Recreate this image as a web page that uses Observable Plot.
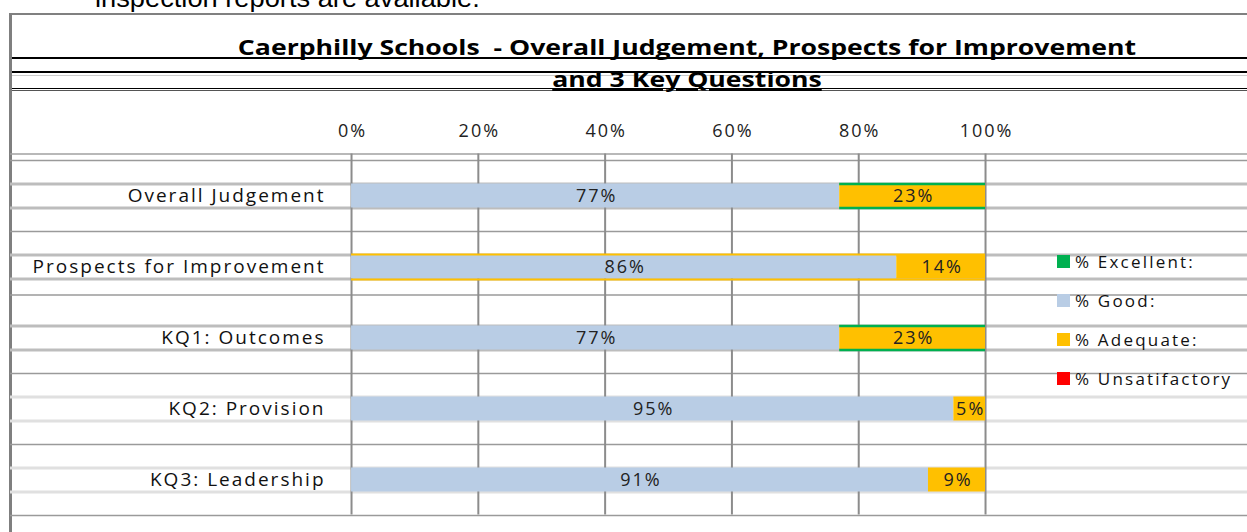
<!DOCTYPE html>
<html>
<head>
<meta charset="utf-8">
<script src="https://cdn.jsdelivr.net/npm/d3@7"></script>
<script src="https://cdn.jsdelivr.net/npm/@observablehq/plot@0.6"></script>
<style>
  html, body { margin: 0; padding: 0; background: #fff; }
  #page { position: relative; width: 1247px; height: 532px; overflow: hidden; background: #fff; font-family: "Open Sans", sans-serif; }
  .ln { position: absolute; }
  #intro { position: absolute; left: 95px; top: -14px; font-family: "Liberation Sans", Arial, sans-serif; font-size: 25px; line-height: 25px; color: #000; white-space: nowrap; transform: scaleX(1.09); transform-origin: left center; }
  .title { position: absolute; left: 187px; width: 1000px; text-align: center; font-family: "Open Sans", sans-serif; font-weight: bold; font-size: 22px; color: #000; text-decoration: underline; white-space: nowrap; line-height: 26px; transform: scaleX(1.21); transform-origin: center center; }
  #chart { position: absolute; left: 0; top: 0; }
  #chart svg text { letter-spacing: 2px; }
  #legend { position: absolute; left: 1057px; top: 242px; font-family: "Open Sans", sans-serif; font-size: 17px; letter-spacing: 2.2px; color: #111; }
  #legend .item { display: flex; align-items: center; height: 39px; white-space: nowrap; }
  #legend .sw { width: 13px; height: 13px; margin-right: 5px; }
</style>
</head>
<body>
<div id="page">
  <div id="intro">inspection reports are available.</div>
  <div class="ln" style="left:9px;top:13px;width:1238px;height:2px;background:#808080"></div>
  <div class="ln" style="left:9px;top:13px;width:3px;height:519px;background:#7f7f7f"></div>
  <div class="ln" style="left:12px;top:57px;width:1235px;height:2px;background:#000"></div>
  <div class="ln" style="left:12px;top:71px;width:1235px;height:2px;background:#000"></div>
  <div class="ln" style="left:12px;top:75px;width:1235px;height:1px;background:#ccc"></div>
  <div class="ln" style="left:12px;top:88px;width:1235px;height:1px;background:#000"></div>
  <div class="ln" style="left:12px;top:90px;width:1235px;height:1px;background:#555"></div>
  <div id="chart"></div>
  <div class="title" style="top:33px">Caerphilly Schools&nbsp; - Overall Judgement, Prospects for Improvement</div>
  <div class="title" style="top:65px">and 3 Key Questions</div>
  <div id="legend"></div>
</div>
<script>
const categories = ["Overall Judgement", "Prospects for Improvement", "KQ1: Outcomes", "KQ2: Provision", "KQ3: Leadership"];
const seriesNames = ["% Excellent:", "% Good:", "% Adequate:", "% Unsatifactory"];
const excellent = [0, 0, 0, 0, 0];
const good = [77, 86, 77, 95, 91];
const adequate = [23, 14, 23, 5, 9];
const unsatisfactory = [0, 0, 0, 0, 0];
const tickValues = [0, 20, 40, 60, 80, 100];
const seriesColors = ["#00b050", "#b9cde5", "#ffc000", "#ff0000"];

const seriesValues = [excellent, good, adequate, unsatisfactory];
const data = [];
categories.forEach((c, i) => {
  seriesNames.forEach((s, j) => data.push({category: c, series: s, value: seriesValues[j][i]}));
});
const goodRows = categories.map((c, i) => ({category: c, good: good[i], adequate: adequate[i]}));
// rows where the scanned chart shows a coloured edge line
const greenEdge = goodRows.filter((d, i) => i === 0 || i === 2);
const orangeEdge = goodRows.filter((d, i) => i === 1);
const bandTops = categories.filter((d, i) => i !== 2);

const chart = Plot.plot({
  width: 1247,
  height: 532,
  marginTop: 159.5,
  marginBottom: 17.5,
  marginLeft: 10,
  marginRight: 0,
  style: {background: "transparent", fontFamily: "Open Sans, sans-serif", fontSize: "18px", color: "#222"},
  x: {domain: [-53.79, 141.32], axis: null},
  y: {domain: categories, padding: 0, axis: null},
  color: {domain: seriesNames, range: seriesColors},
  marks: [
    Plot.ruleY([categories[0]], {y: d => d, dy: -42, stroke: "#a0a0a0", strokeWidth: 1.5}),
    Plot.ruleY(bandTops, {y: d => d, dy: -35.5, stroke: "#9a9a9a", strokeWidth: 1.5}),
    Plot.ruleY([categories[1]], {y: d => d, dy: 28, stroke: "#9a9a9a", strokeWidth: 1.5}),
    Plot.ruleY([categories[categories.length - 1]], {y: d => d, dy: 35.5, stroke: "#9a9a9a", strokeWidth: 1.5}),
    Plot.ruleY(categories.slice(0, 3), {y: d => d, dy: -12, stroke: "#bdbdbd", strokeWidth: 3}),
    Plot.ruleY(categories.slice(0, 3), {y: d => d, dy: 12, stroke: "#bdbdbd", strokeWidth: 3}),
    Plot.ruleY(categories.slice(3), {y: d => d, dy: -12, stroke: "#e0e0e0", strokeWidth: 3}),
    Plot.ruleY(categories.slice(3), {y: d => d, dy: 12, stroke: "#e0e0e0", strokeWidth: 3}),
    Plot.ruleX(tickValues, {x: d => d, stroke: "#8c8c8c", strokeWidth: 2, insetTop: -6}),
    Plot.barX(data, Plot.stackX({y: "category", x: "value", fill: "series", insetTop: 23.5, insetBottom: 23.5})),
    Plot.ruleY(greenEdge, {y: "category", x1: "good", x2: d => d.good + d.adequate, dy: -12, stroke: "#00b050", strokeWidth: 2.5}),
    Plot.ruleY(greenEdge, {y: "category", x1: "good", x2: d => d.good + d.adequate, dy: 12, stroke: "#00b050", strokeWidth: 2.5}),
    Plot.ruleY(orangeEdge, {y: "category", x1: 0, x2: d => d.good + d.adequate, dy: -12.5, stroke: "#ffc000", strokeWidth: 2}),
    Plot.ruleY(orangeEdge, {y: "category", x1: 0, x2: d => d.good + d.adequate, dy: 12.5, stroke: "#ffc000", strokeWidth: 2}),
    Plot.text(data, Plot.stackX({filter: d => d.value > 0, y: "category", x: "value", text: d => d.value + "%", fontSize: 18, fill: "#222", dx: 1})),
    Plot.text(categories, {x: 0, y: d => d, text: d => d, textAnchor: "end", dx: -26, fontSize: 19, fill: "#111"}),
    Plot.axisX({anchor: "top", ticks: tickValues, tickFormat: d => d + "%", tickSize: 0, tickPadding: 23, fontSize: 18, dx: 1, label: null})
  ]
});
document.getElementById("chart").appendChild(chart);

const legend = document.getElementById("legend");
seriesNames.forEach((s, j) => {
  const item = document.createElement("div");
  item.className = "item";
  const sw = document.createElement("div");
  sw.className = "sw";
  sw.style.background = seriesColors[j];
  const t = document.createElement("span");
  t.textContent = s;
  item.appendChild(sw);
  item.appendChild(t);
  legend.appendChild(item);
});
</script>
</body>
</html>
